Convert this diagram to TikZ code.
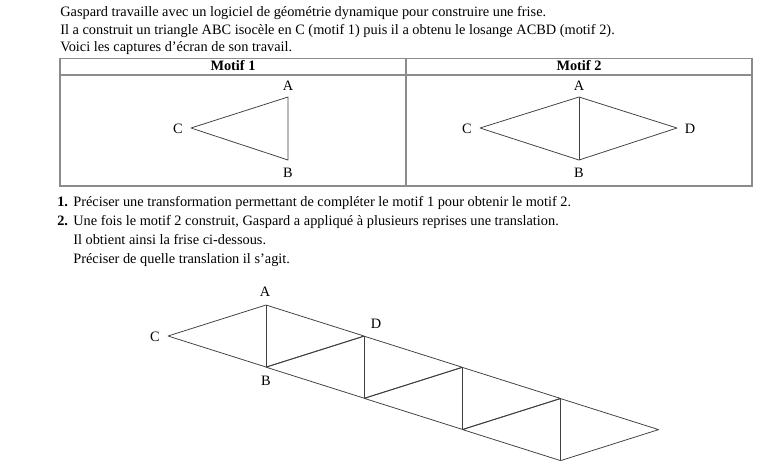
\documentclass[tikz,border=0pt]{standalone}
\usepackage{fontspec}
\setmainfont{Liberation Serif}
\begin{document}
\begin{tikzpicture}[x=0.025cm,y=-0.025cm,
	every node/.style={font=\fontsize{10.2}{12}\selectfont},
	txt/.style={anchor=base west,inner sep=0pt},
	pt/.style={inner sep=1pt},
	frame/.style={draw=black!45,line width=0.8pt},
	seg/.style={draw=black!75,line width=0.55pt,line join=round}]
	\useasboundingbox (0,0) rectangle (768,470);
	% texte
	\node[txt] at (60,16)(l1){Gaspard travaille avec un logiciel de géométrie dynamique pour construire une frise.};
	\node[txt] at (60,34)(l2){Il a construit un triangle ABC isocèle en C (motif 1) puis il a obtenu le losange ACBD (motif 2).};
	\node[txt] at (60,51)(l3){Voici les captures d'écran de son travail.};
	% tableau
	\draw[frame] (60,58.5) rectangle (752,186);
	\draw[frame] (60,75)--(752,75);
	\draw[frame] (406,58.5)--(406,186);
	\node at (233,66)(m1){\textbf{Motif 1}};
	\node at (579,66)(m2){\textbf{Motif 2}};
	% motif 1
	\coordinate (A1) at (288,97);
	\coordinate (B1) at (288,160);
	\coordinate (C1) at (191,128);
	\node[pt] at (288,86)(a1){A};
	\node[pt] at (178,129)(c1){C};
	\node[pt] at (288,173)(b1){B};
	\draw[seg] (C1)--(A1)--(B1)--cycle;
	% motif 2
	\coordinate (A2) at (579,97);
	\coordinate (B2) at (579,160);
	\coordinate (C2) at (480,128);
	\coordinate (D2) at (677,128);
	\node[pt] at (579,86)(a2){A};
	\node[pt] at (467,129)(c2){C};
	\node[pt] at (690,129)(d2){D};
	\node[pt] at (579,173)(b2){B};
	\draw[seg] (C2)--(A2)--(D2)--(B2)--cycle;
	\draw[seg] (A2)--(B2);
	% questions
	\node[txt] at (57,206)(q1){\textbf{1.}};
	\node[txt] at (73,206)(t1){Préciser une transformation permettant de compléter le motif 1 pour obtenir le motif 2.};
	\node[txt] at (57,225)(q2){\textbf{2.}};
	\node[txt] at (73,225)(t2){Une fois le motif 2 construit, Gaspard a appliqué à plusieurs reprises une translation.};
	\node[txt] at (73,244)(t3){Il obtient ainsi la frise ci-dessous.};
	\node[txt] at (73,263)(t4){Préciser de quelle translation il s'agit.};
	% frise
	\foreach \k in {0,...,3}{
		\begin{scope}[shift={(98.2*\k,31.2*\k)}]
			\coordinate (A\k) at (266,305);
			\coordinate (B\k) at (266,367);
			\coordinate (C\k) at (168,336);
			\coordinate (D\k) at (364,336);
		\end{scope}
		\draw[seg] (C\k)--(A\k)--(D\k)--(B\k)--cycle;
		\draw[seg] (A\k)--(B\k);
	}
	\node[pt] at (265,292)(fa){A};
	\node[pt] at (155,337)(fc){C};
	\node[pt] at (376,324)(fd){D};
	\node[pt] at (266,381)(fb){B};
\end{tikzpicture}
\end{document}
